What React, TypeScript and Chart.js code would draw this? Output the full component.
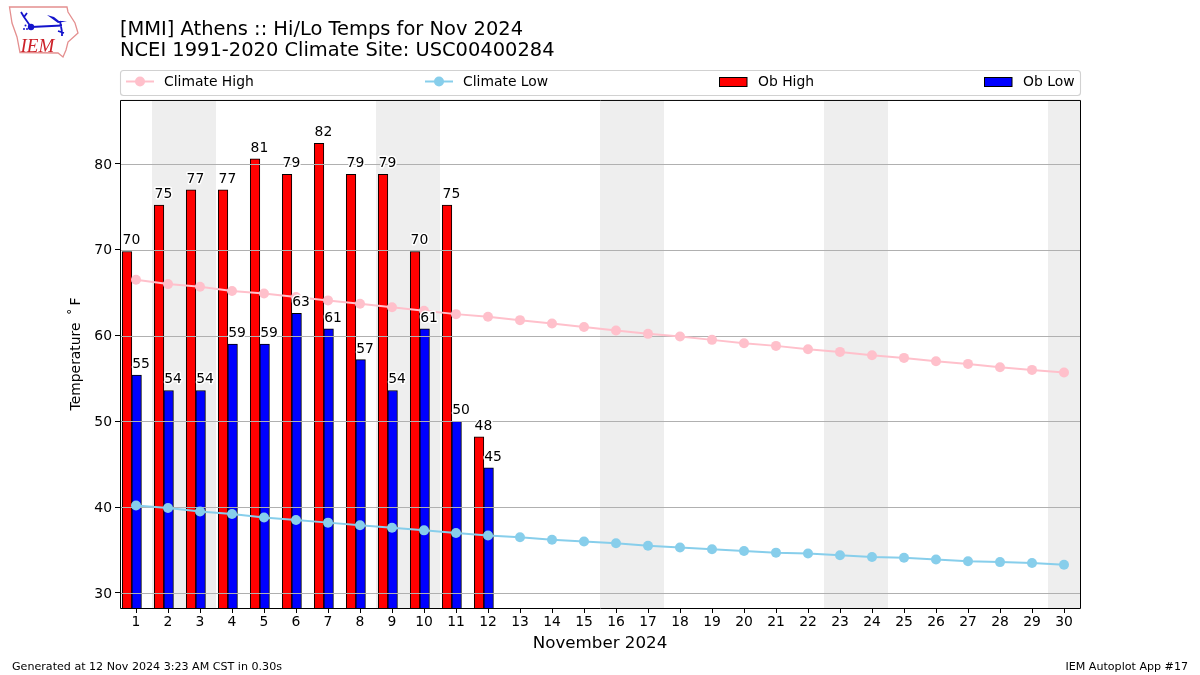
import React, { useEffect, useRef } from "react";
import { Chart, registerables } from "chart.js";

Chart.register(...registerables);

const days = Array.from({ length: 30 }, (_, i) => i + 1);
const climateHigh = [66.5, 66.0, 65.7, 65.2, 64.9, 64.5, 64.1, 63.7, 63.3, 62.9, 62.5, 62.2, 61.8, 61.4, 61.0, 60.6, 60.2, 59.9, 59.5, 59.1, 58.8, 58.4, 58.1, 57.7, 57.4, 57.0, 56.7, 56.3, 56.0, 55.7];
const climateLow = [40.2, 39.9, 39.5, 39.2, 38.8, 38.5, 38.2, 37.9, 37.6, 37.3, 37.0, 36.7, 36.5, 36.2, 36.0, 35.8, 35.5, 35.3, 35.1, 34.9, 34.7, 34.6, 34.4, 34.2, 34.1, 33.9, 33.7, 33.6, 33.5, 33.3];
const obHigh = [69.8, 75.2, 77, 77, 80.6, 78.8, 82.4, 78.8, 78.8, 69.8, 75.2, 48.2];
const obLow = [55.4, 53.6, 53.6, 59, 59, 62.6, 60.8, 57.2, 53.6, 60.8, 50, 44.6];
const weekendDays = [2, 3, 9, 10, 16, 17, 23, 24, 30];

const FONT = '"DejaVu Sans"';
const BAR_W = 9.6;

const framePlugin = {
  id: "frame",
  beforeDatasetsDraw(chart: any) {
    const { ctx, chartArea: a, scales } = chart;
    ctx.save();
    ctx.fillStyle = "#eeeeee";
    for (const d of weekendDays) {
      const l = Math.max(scales.x.getPixelForValue(d - 0.5), a.left);
      const r = Math.min(scales.x.getPixelForValue(d + 0.5), a.right);
      ctx.fillRect(l, a.top, r - l, a.bottom - a.top);
    }
    ctx.restore();
  },
  afterDatasetDraw(chart: any, args: any) {
    if (args.index !== 2) return;
    const { ctx, chartArea: a, scales } = chart;
    ctx.save();
    ctx.strokeStyle = "#b0b0b0";
    ctx.lineWidth = 1.1;
    for (const t of scales.y.ticks) {
      const y = Math.round(scales.y.getPixelForValue(t.value)) + 0.5;
      ctx.beginPath();
      ctx.moveTo(a.left, y);
      ctx.lineTo(a.right, y);
      ctx.stroke();
    }
    ctx.restore();
  },
  afterDatasetsDraw(chart: any) {
    const { ctx, chartArea: a } = chart;
    ctx.save();
    ctx.font = `13.9px ${FONT}`;
    ctx.textBaseline = "alphabetic";
    ctx.textAlign = "left";
    ctx.lineJoin = "round";
    for (const idx of [2, 3]) {
      const meta = chart.getDatasetMeta(idx);
      const vals = chart.data.datasets[idx].data;
      meta.data.forEach((bar: any, i: number) => {
        const text = String(Math.round(vals[i].y));
        const x = bar.x - BAR_W / 2 + 0.3;
        const y = bar.y - 7;
        ctx.strokeStyle = "#ffffff";
        ctx.lineWidth = 3;
        ctx.strokeText(text, x, y);
        ctx.fillStyle = "#000000";
        ctx.fillText(text, x, y);
      });
    }
    ctx.strokeStyle = "#000000";
    ctx.lineWidth = 1;
    ctx.strokeRect(a.left + 0.5, a.top + 0.5, a.right - a.left, a.bottom - a.top);
    ctx.restore();
  },
  afterDraw(chart: any) {
    const { ctx } = chart;
    const ds = chart.data.datasets;
    ctx.save();
    ctx.strokeStyle = "rgba(204,204,204,0.9)";
    ctx.fillStyle = "#ffffff";
    ctx.lineWidth = 1.1;
    ctx.beginPath();
    ctx.roundRect(120.5, 70.5, 960, 25, 3);
    ctx.fill();
    ctx.stroke();
    const starts = [126, 425, 719, 984];
    ctx.font = `13.9px ${FONT}`;
    ctx.textBaseline = "alphabetic";
    ds.forEach((d: any, i: number) => {
      const x = starts[i];
      let textX = x + 38;
      if (d.type === "line") {
        ctx.strokeStyle = d.borderColor;
        ctx.lineWidth = 2;
        ctx.beginPath();
        ctx.moveTo(x, 81.5);
        ctx.lineTo(x + 28, 81.5);
        ctx.stroke();
        ctx.fillStyle = d.borderColor;
        ctx.beginPath();
        ctx.arc(x + 14, 81.5, 5, 0, Math.PI * 2);
        ctx.fill();
      } else {
        textX = x + 39;
        ctx.fillStyle = d.backgroundColor;
        ctx.strokeStyle = "#000000";
        ctx.lineWidth = 1;
        ctx.fillRect(x, 77, 28, 9.5);
        ctx.strokeRect(x + 0.5, 77.5, 27.5, 9);
      }
      ctx.fillStyle = "#000000";
      ctx.textAlign = "left";
      ctx.fillText(d.label, textX, 86);
    });
    ctx.font = `11.1px ${FONT}`;
    ctx.fillStyle = "#000000";
    ctx.textAlign = "left";
    ctx.fillText("Generated at 12 Nov 2024 3:23 AM CST in 0.30s", 12, 670);
    ctx.textAlign = "right";
    ctx.fillText("IEM Autoplot App #17", 1188, 670);
    ctx.restore();
  },
};

export default function App() {
  const ref = useRef<HTMLCanvasElement>(null);
  useEffect(() => {
    const chart = new Chart(ref.current as any, {
      type: "bar",
      plugins: [framePlugin],
      data: {
        datasets: [
          {
            type: "line",
            label: "Climate High",
            data: days.map((d, i) => ({ x: d, y: climateHigh[i] })),
            borderColor: "#ffc0cb",
            backgroundColor: "#ffc0cb",
            borderWidth: 2,
            pointRadius: 5,
            pointBorderWidth: 0,
            tension: 0,
          },
          {
            type: "line",
            label: "Climate Low",
            data: days.map((d, i) => ({ x: d, y: climateLow[i] })),
            borderColor: "#87ceeb",
            backgroundColor: "#87ceeb",
            borderWidth: 2,
            pointRadius: 5,
            pointBorderWidth: 0,
            tension: 0,
          },
          {
            type: "bar",
            label: "Ob High",
            data: obHigh.map((v, i) => ({ x: days[i] - 0.28, y: v })),
            backgroundColor: "#ff0000",
            borderColor: "#000000",
            borderWidth: 1,
            barThickness: BAR_W,
            grouped: false,
          },
          {
            type: "bar",
            label: "Ob Low",
            data: obLow.map((v, i) => ({ x: days[i] + 0.02, y: v })),
            backgroundColor: "#0000ff",
            borderColor: "#000000",
            borderWidth: 1,
            barThickness: BAR_W,
            grouped: false,
          },
        ] as any,
      },
      options: {
        responsive: false,
        animation: false,
        devicePixelRatio: 1,
        layout: { padding: { top: 18.7, right: 120, left: 0, bottom: 0 } },
        plugins: {
          legend: { display: false },
          tooltip: { enabled: false },
          title: {
            display: true,
            fullSize: false,
            align: "start",
            text: ["[MMI] Athens :: Hi/Lo Temps for Nov 2024", "NCEI 1991-2020 Climate Site: USC00400284"],
            color: "#000000",
            font: { family: FONT, size: 19.45, weight: "normal", lineHeight: 1.12 },
            padding: { top: 0, bottom: 37.7 },
          },
        },
        scales: {
          x: {
            type: "linear",
            min: 0.5,
            max: 30.5,
            offset: false,
            afterFit: (s: any) => { s.height = 67; },
            afterBuildTicks: (s: any) => { s.ticks = days.map((value) => ({ value })); },
            grid: { display: true, offset: false, drawOnChartArea: false, drawTicks: true, tickLength: 5, tickColor: "#000000", tickWidth: 1 },
            border: { display: false },
            ticks: {
              autoSkip: false,
              maxRotation: 0,
              padding: 1,
              color: "#000000",
              font: { family: FONT, size: 13.9 },
              callback: (v: any) => String(v),
            },
            title: {
              display: true,
              text: "November 2024",
              color: "#000000",
              font: { family: FONT, size: 16.7, weight: "normal" },
              padding: { top: 0, bottom: 21 },
            },
          },
          y: {
            type: "linear",
            min: 28.25,
            max: 87.46,
            afterFit: (s: any) => { s.width = 120; },
            grid: { display: true, drawOnChartArea: false, drawTicks: true, tickLength: 5, tickColor: "#000000", tickWidth: 1 },
            border: { display: false },
            ticks: {
              stepSize: 10,
              includeBounds: false,
              padding: 3,
              labelOffset: 1,
              color: "#000000",
              font: { family: FONT, size: 13.9 },
            },
            title: {
              display: true,
              text: "Temperature \u2009˚\u2009F",
              color: "#000000",
              font: { family: FONT, size: 13.9, weight: "normal" },
              padding: { top: 68, bottom: 0 },
            },
          },
        },
      } as any,
    });
    return () => chart.destroy();
  }, []);
  return (
    <div style={{ position: "absolute", left: 0, top: 0, width: 1200, height: 675, background: "#fff", overflow: "hidden" }}>
      <canvas ref={ref} width={1200} height={675} style={{ display: "block", width: 1200, height: 675 }} />
      <svg width={90} height={62} style={{ position: "absolute", left: 0, top: 0 }}>
        <path d="M9.5 7 L67 7 L68 12 L75 23 L78 33 L68 42 L66 50 L63 57 L58 53 L20 52.5 L17 37 L12 23 Z" fill="none" stroke="#e48f8f" strokeWidth={1.3} />
        <path d="M31 27 L62 25.5 M31 27 L24 17 M24 17 L21 12 M24 17 L27 13 M60 21 L62 32 M58 31 L64 33 M62 36 L62 32" stroke="#1414cc" strokeWidth={1.8} fill="none" />
        <path d="M47 15 L54 17 L59 21 L67 21 L58 23 Z" fill="#1414cc" />
        <circle cx={31} cy={27} r={3.2} fill="#1414cc" />
        <circle cx={24} cy={29} r={1} fill="#1414cc" />
        <circle cx={27} cy={29} r={1} fill="#1414cc" />
        <circle cx={25.5} cy={25.5} r={1} fill="#1414cc" />
        <text x={20.5} y={52} fontFamily='"Liberation Serif"' fontStyle="italic" fontSize={19} fill="#cc2028">IEM</text>
      </svg>
    </div>
  );
}
